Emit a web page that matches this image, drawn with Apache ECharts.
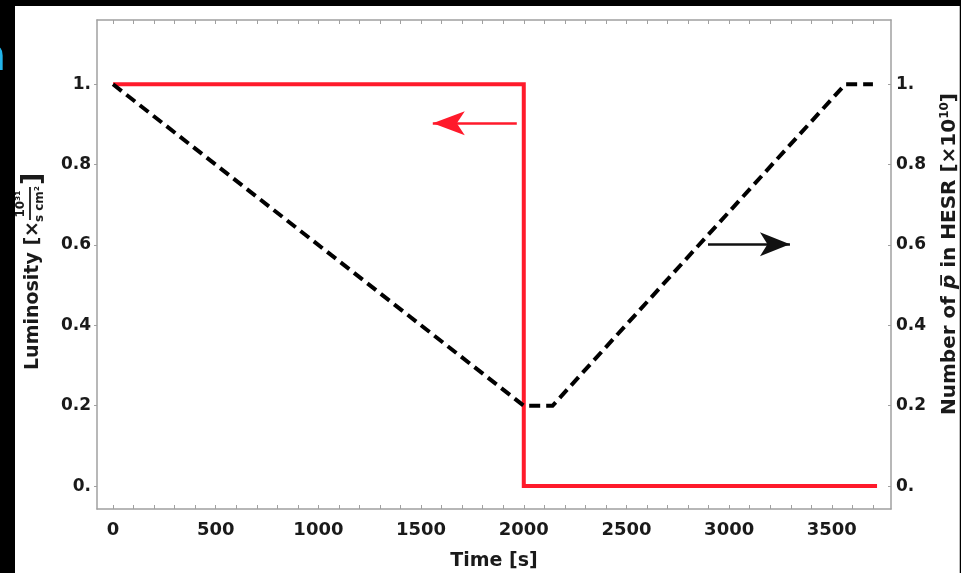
<!DOCTYPE html>
<html>
<head>
<meta charset="utf-8">
<script src="https://cdn.jsdelivr.net/npm/echarts@6/dist/echarts.min.js"></script>
<style>
  html, body { margin: 0; padding: 0; background: #000; }
  #paper { position: absolute; left: 15px; top: 6px; width: 944px; height: 567px; background: #fff; border-right: 1px solid #bbb; }
  #chart { position: absolute; left: 0; top: 0; width: 961px; height: 573px; }
</style>
</head>
<body>
<div id="paper"></div>
<div id="chart"></div>
<script>
// Luminosity (left axis) and antiproton count (right axis) over one cycle
const lumTime   = [0, 2000, 2000, 3720];
const lumValue  = [1, 1, 0, 0];
const pbarTime  = [0, 2000, 2140, 3565, 3700];
const pbarValue = [1, 0.2, 0.2, 1, 1];

const timeLabels  = [0, 500, 1000, 1500, 2000, 2500, 3000, 3500];
const timeTicks   = [0, 100, 200, 300, 400, 500, 600, 700, 800, 900, 1000, 1100, 1200, 1300, 1400, 1500, 1600, 1700, 1800, 1900, 2000, 2100, 2200, 2300, 2400, 2500, 2600, 2700, 2800, 2900, 3000, 3100, 3200, 3300, 3400, 3500, 3600, 3700];
const valueLabels = [0, 0.2, 0.4, 0.6, 0.8, 1];

// Direction arrows: [time, value] start -> end
const lumArrow  = [[1966, 0.903], [1557, 0.903]];
const pbarArrow = [[2897, 0.602], [3296, 0.602]];

const X_MIN = -78, X_MAX = 3788;
const Y_MIN = -0.057, Y_MAX = 1.16;

const FONT = '"DejaVu Sans", sans-serif';
const INK = '#1a1a1a';
const FRAME = '#a0a0a0';

const fmtValue = v => (v === 0 ? '0.' : v === 1 ? '1.' : v.toFixed(1));
const fmtTime = v => String(Math.round(v));

const chart = echarts.init(document.getElementById('chart'), null, { renderer: 'canvas' });

const xBase = {
  type: 'value', min: X_MIN, max: X_MAX,
  splitLine: { show: false },
  axisLine: { show: true, onZero: false, lineStyle: { color: FRAME, width: 1.5 } },
  axisTick: { show: true, inside: true, length: 4, customValues: timeTicks, lineStyle: { color: FRAME, width: 1 } }
};
const yBase = {
  type: 'value', min: Y_MIN, max: Y_MAX,
  splitLine: { show: false },
  axisLine: { show: true, onZero: false, lineStyle: { color: FRAME, width: 1.5 } },
  axisLabel: {
    customValues: valueLabels, formatter: fmtValue,
    color: INK, fontFamily: FONT, fontWeight: 'bold', fontSize: 17
  }
};

chart.setOption({
  animation: false,
  backgroundColor: 'transparent',
  grid: { left: 97, top: 20, right: 70, bottom: 64, containLabel: false, outerBoundsMode: 'none' },
  xAxis: [
    Object.assign({}, xBase, {
      position: 'bottom',
      name: 'Time [s]', nameLocation: 'middle', nameGap: 43,
      nameTextStyle: { color: INK, fontFamily: FONT, fontWeight: 'bold', fontSize: 19 },
      axisLabel: {
        customValues: timeLabels, formatter: fmtTime, margin: 12,
        color: INK, fontFamily: FONT, fontWeight: 'bold', fontSize: 18
      }
    }),
    Object.assign({}, xBase, { position: 'top', axisLabel: { show: false } })
  ],
  yAxis: [
    Object.assign({}, yBase, {
      position: 'left',
      axisTick: { show: true, inside: false, length: 3, customValues: valueLabels, lineStyle: { color: FRAME } },
      axisLabel: Object.assign({}, yBase.axisLabel, { margin: 6 })
    }),
    Object.assign({}, yBase, {
      position: 'right',
      axisTick: { show: true, inside: true, length: 3, customValues: valueLabels, lineStyle: { color: FRAME } },
      axisLabel: Object.assign({}, yBase.axisLabel, { margin: 5 })
    })
  ],
  series: [
    {
      name: 'Luminosity', type: 'line', xAxisIndex: 0, yAxisIndex: 0,
      data: lumTime.map((t, i) => [t, lumValue[i]]),
      showSymbol: false, silent: true,
      lineStyle: { color: '#ff1a2b', width: 4, cap: 'butt', join: 'miter' },
      z: 3,
      markLine: {
        silent: true, animation: false,
        symbol: ['none', 'arrow'], symbolSize: [18, 32],
        label: { show: false },
        lineStyle: { color: '#ff1a2b', width: 2.5, type: 'solid' },
        data: [[{ coord: lumArrow[0] }, { coord: lumArrow[1] }]]
      }
    },
    {
      name: 'Antiprotons', type: 'line', xAxisIndex: 0, yAxisIndex: 1,
      data: pbarTime.map((t, i) => [t, pbarValue[i]]),
      showSymbol: false, silent: true,
      lineStyle: { color: '#000', width: 4, type: [11, 6], cap: 'butt', join: 'miter' },
      z: 4,
      markLine: {
        silent: true, animation: false,
        symbol: ['none', 'arrow'], symbolSize: [18, 30],
        label: { show: false },
        lineStyle: { color: '#111', width: 2.5, type: 'solid' },
        data: [[{ coord: pbarArrow[0] }, { coord: pbarArrow[1] }]]
      }
    }
  ],
  graphic: [
    // cut-off letter at the left edge of the slide
    {
      type: 'text', x: 6, y: 59,
      style: { text: 'n', fill: '#22b4ea', font: 'bold 44px ' + FONT, align: 'right', verticalAlign: 'middle' }
    },
    // left axis title with stacked unit fraction
    {
      type: 'group', x: 33, y: 265, rotation: Math.PI / 2,
      children: [
        { type: 'text', x: -105, y: 0, style: { text: 'Luminosity [×', fill: INK, font: 'bold 19px ' + FONT, align: 'left', verticalAlign: 'middle' } },
        { type: 'text', x: 61, y: -12, style: { text: '10³¹', fill: INK, font: 'bold 12px ' + FONT, align: 'center', verticalAlign: 'middle' } },
        { type: 'line', shape: { x1: 45, y1: -3, x2: 78, y2: -3 }, style: { stroke: INK, lineWidth: 1.8 } },
        { type: 'text', x: 61, y: 7, style: { text: 's cm²', fill: INK, font: 'bold 12px ' + FONT, align: 'center', verticalAlign: 'middle' } },
        { type: 'text', x: 80, y: 0, style: { text: ']', fill: INK, font: 'bold 27px ' + FONT, align: 'left', verticalAlign: 'middle' } }
      ]
    },
    // right axis title
    {
      type: 'text', x: 950, y: 254, rotation: Math.PI / 2,
      style: {
        text: 'Number of {p|p\u0305} in HESR [×10{s|10}]',
        fill: INK, font: 'bold 20px ' + FONT, align: 'center', verticalAlign: 'middle',
        rich: {
          p: { fontStyle: 'italic', fontWeight: 'bold', fontSize: 20, fontFamily: FONT, fill: INK },
          s: { fontSize: 12, fontWeight: 'bold', fontFamily: FONT, fill: INK, padding: [0, 0, 10, 0] }
        }
      }
    }
  ]
});
</script>
</body>
</html>
